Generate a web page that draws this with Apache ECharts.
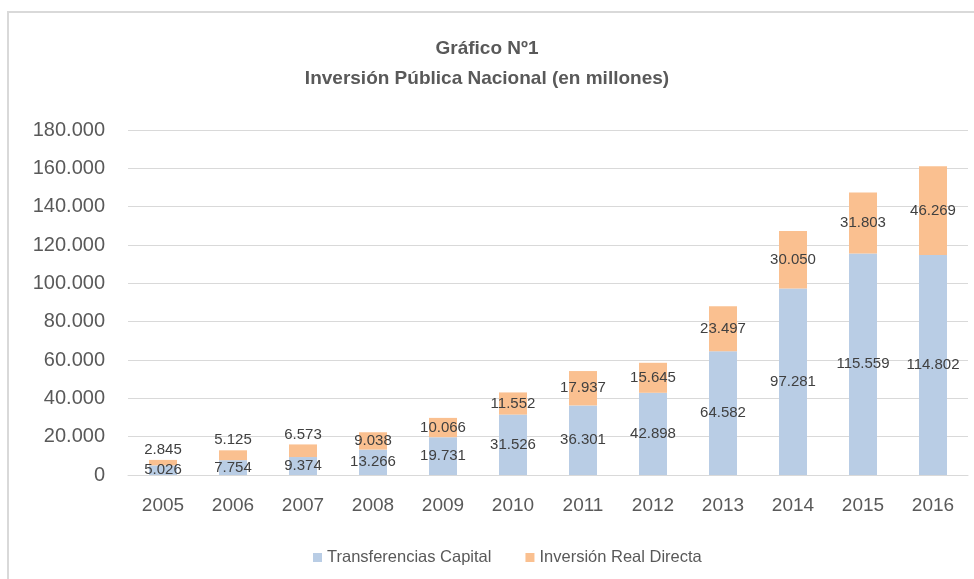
<!DOCTYPE html>
<html>
<head>
<meta charset="utf-8">
<script src="https://cdn.jsdelivr.net/npm/echarts@6/dist/echarts.min.js"></script>
<style>
  html, body { margin: 0; padding: 0; background: #fff; }
  #chart { position: absolute; left: 0; top: 0; width: 974px; height: 579px; }
  #frame { position: absolute; left: 7px; top: 11px; right: 0; bottom: 0;
           border-top: 2px solid #d9d9d9; border-left: 2px solid #d9d9d9; pointer-events: none; }
</style>
</head>
<body>
<div id="chart"></div>
<div id="frame"></div>
<script>
const years = ['2005','2006','2007','2008','2009','2010','2011','2012','2013','2014','2015','2016'];
const transferenciasCapital = [5026, 7754, 9374, 13266, 19731, 31526, 36301, 42898, 64582, 97281, 115559, 114802];
const inversionRealDirecta = [2845, 5125, 6573, 9038, 10066, 11552, 17937, 15645, 23497, 30050, 31803, 46269];
const seriesNames = ['Transferencias Capital', 'Inversión Real Directa'];
const titleText = 'Gráfico Nº1\nInversión Pública Nacional (en millones)';

function fmt(v) {
  return String(Math.round(v)).replace(/\B(?=(\d{3})+(?!\d))/g, '.');
}

const font = 'Liberation Sans, Arial, sans-serif';
const chart = echarts.init(document.getElementById('chart'), null, { renderer: 'canvas' });

const labelCfg = {
  show: true,
  position: 'inside',
  color: '#404040',
  fontFamily: font,
  fontSize: 15,
  formatter: p => fmt(p.value)
};

chart.setOption({
  animation: false,
  backgroundColor: 'transparent',
  title: {
    text: titleText,
    left: 'center',
    top: 29,
    textStyle: { fontFamily: font, fontSize: 19, fontWeight: 'bold', color: '#595959', lineHeight: 30 }
  },
  legend: {
    data: seriesNames,
    left: 308,
    top: 544,
    itemWidth: 9,
    itemHeight: 9,
    itemGap: 34,
    icon: 'rect',
    textStyle: { fontFamily: font, fontSize: 16.5, color: '#595959' }
  },
  grid: { left: 128, right: 6, top: 130, bottom: 104, containLabel: false },
  xAxis: {
    type: 'category',
    data: years,
    axisLine: { show: true, lineStyle: { color: '#d9d9d9', width: 1 } },
    axisTick: { show: false },
    axisLabel: { color: '#595959', fontFamily: font, fontSize: 19, margin: 21 }
  },
  yAxis: {
    type: 'value',
    min: 0,
    max: 180000,
    interval: 20000,
    axisLine: { show: false },
    axisTick: { show: false },
    splitLine: { lineStyle: { color: '#d9d9d9', width: 1 } },
    axisLabel: { color: '#595959', fontFamily: font, fontSize: 20, margin: 23, formatter: v => fmt(v) }
  },
  series: [
    {
      name: seriesNames[0],
      type: 'bar',
      stack: 'total',
      data: transferenciasCapital,
      barWidth: 28,
      itemStyle: { color: '#b9cde5' },
      label: labelCfg
    },
    {
      name: seriesNames[1],
      type: 'bar',
      stack: 'total',
      data: inversionRealDirecta,
      barWidth: 28,
      itemStyle: { color: '#fac090' },
      label: labelCfg,
      labelLayout: function (params) {
        if (params.rect.height < 16) {
          return {
            x: params.rect.x + params.rect.width / 2,
            y: params.rect.y - 10,
            align: 'center',
            verticalAlign: 'middle'
          };
        }
        return {};
      }
    }
  ]
});
</script>
</body>
</html>
